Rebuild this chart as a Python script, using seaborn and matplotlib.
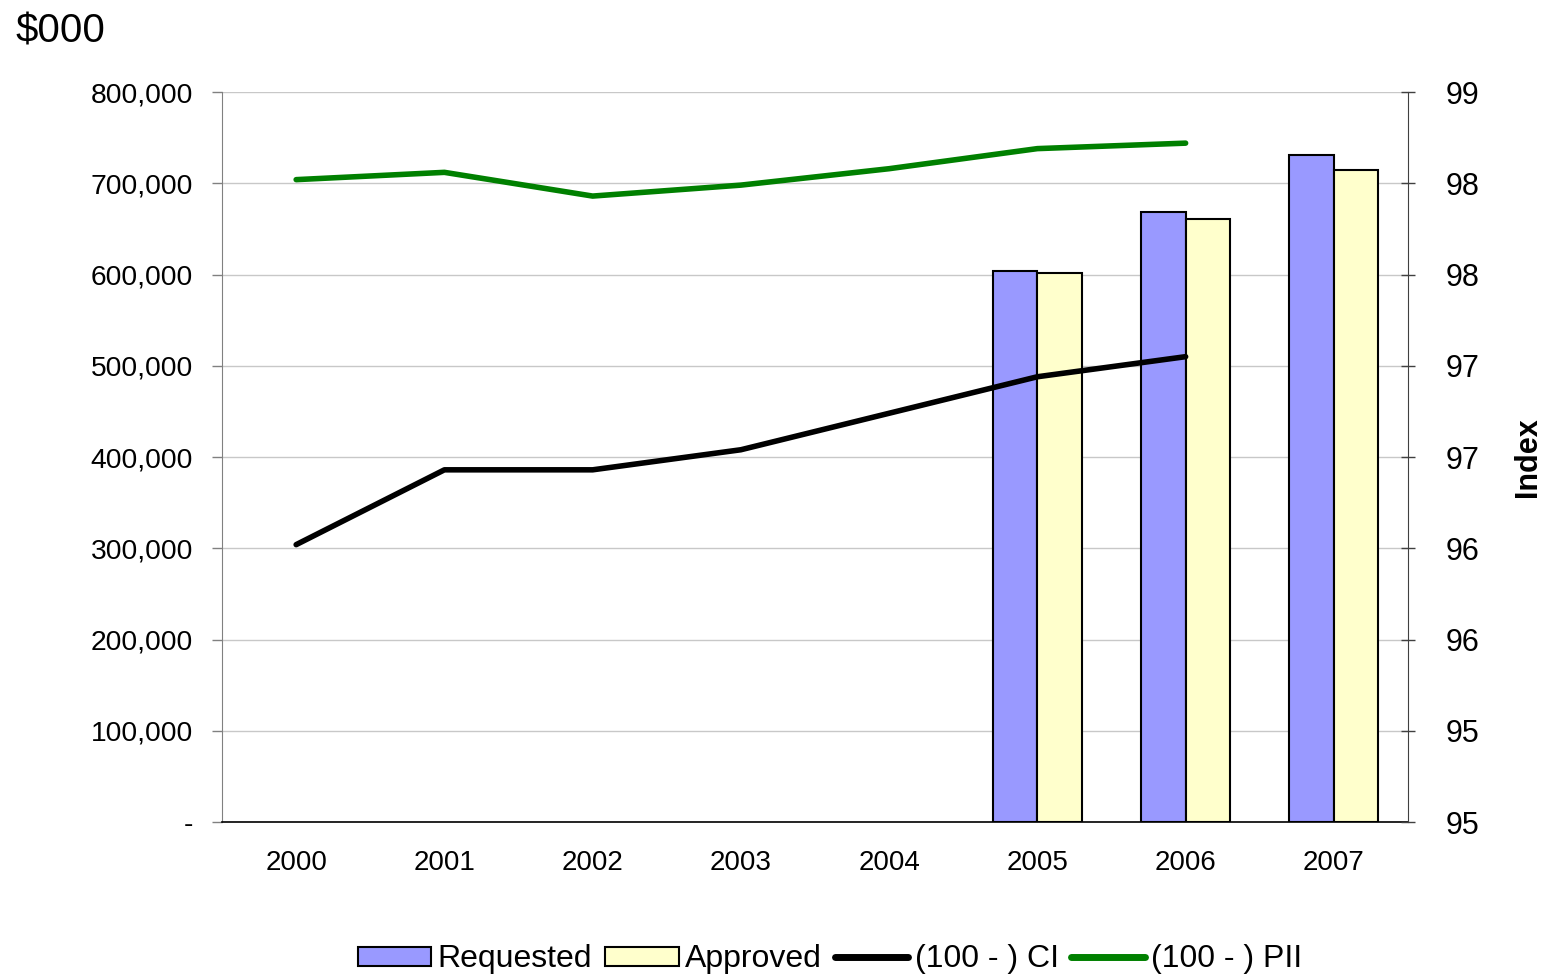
import numpy as np
import pandas as pd
import matplotlib
matplotlib.use("Agg")
import matplotlib.pyplot as plt
from matplotlib.ticker import FuncFormatter
from matplotlib.patches import Patch
from matplotlib.lines import Line2D
import seaborn as sns

# data
years = ["2000", "2001", "2002", "2003", "2004", "2005", "2006", "2007"]
requested = [np.nan, np.nan, np.nan, np.nan, np.nan, 604000, 668500, 731000]
approved = [np.nan, np.nan, np.nan, np.nan, np.nan, 601600, 660800, 714500]
ci_index = [96.52, 96.93, 96.93, 97.04, 97.24, 97.44, 97.55]
pii_index = [98.52, 98.56, 98.43, 98.49, 98.58, 98.69, 98.72]
right_ticks = [95, 95.5, 96, 96.5, 97, 97.5, 98, 98.5, 99]
right_labels = ["95", "95", "96", "96", "97", "97", "98", "98", "99"]

sns.set_style("white")
plt.rcParams["font.family"] = ["Liberation Sans", "DejaVu Sans"]
plt.rcParams["text.color"] = "black"
plt.rcParams["axes.labelcolor"] = "black"
plt.rcParams["xtick.color"] = "black"
plt.rcParams["ytick.color"] = "black"

df = pd.DataFrame({
    "year": years * 2,
    "value": requested + approved,
    "series": ["Requested"] * len(years) + ["Approved"] * len(years),
})

fig = plt.figure(figsize=(15.43, 9.74), dpi=100)
ax = fig.add_axes([0.1439, 0.156, 0.9125 - 0.1439, 0.9055 - 0.156])

sns.barplot(data=df, x="year", y="value", hue="series", order=years,
            hue_order=["Requested", "Approved"],
            palette=["#9999ff", "#ffffcc"], width=0.6, edgecolor="black",
            linewidth=1.5, saturation=1, ax=ax, legend=False)

ax.set_xlim(-0.5, len(years) - 0.5)
ax.set_ylim(0, 800000)
ax.set_yticks(np.arange(0, 800001, 100000))
ax.yaxis.set_major_formatter(FuncFormatter(lambda v, p: "-" if v == 0 else f"{int(v):,}"))
ax.set_xticks(np.arange(len(years)))
ax.set_xticklabels(years)
ax.set_xticks(np.arange(len(years) + 1) - 0.5, minor=True)
ax.tick_params(axis="x", which="major", length=0, labelsize=20, pad=20, labelcolor="black")
ax.tick_params(axis="x", which="minor", length=7, width=1, direction="out", color="black")
ax.tick_params(axis="y", length=7, width=1, direction="out", color="#808080",
               labelsize=20.3, pad=14, labelcolor="black")
ax.set_xlabel("")
ax.set_ylabel("")
ax.grid(axis="y", color="#c8c8c8", linewidth=1)
ax.set_axisbelow(True)
for s in ["top", "right"]:
    ax.spines[s].set_visible(False)
ax.spines["left"].set_color("#808080")
ax.spines["bottom"].set_color("black")
ax.spines["bottom"].set_linewidth(1.2)

ax2 = ax.twinx()
xpos = np.arange(len(ci_index))
sns.lineplot(x=xpos, y=ci_index, color="black", linewidth=4, ax=ax2)
sns.lineplot(x=xpos, y=pii_index, color="#008000", linewidth=4, ax=ax2)
ax2.set_ylim(95, 99)
ax2.set_yticks(right_ticks)
ax2.set_yticklabels(right_labels)
ax2.tick_params(axis="y", length=10, width=1, direction="inout", color="#404040",
                labelsize=22, pad=22, labelcolor="black")
ax2.set_ylabel("Index", fontsize=22, fontweight="bold", labelpad=24, color="black")
for s in ["top", "left", "bottom"]:
    ax2.spines[s].set_visible(False)
ax2.spines["right"].set_color("#404040")

fig.text(0.01, 0.987, "$000", fontsize=29, ha="left", va="top", color="black")

handles = [
    Patch(facecolor="#9999ff", edgecolor="black", linewidth=1.5),
    Patch(facecolor="#ffffcc", edgecolor="black", linewidth=1.5),
    Line2D([], [], color="black", linewidth=5),
    Line2D([], [], color="#008000", linewidth=5),
]
fig.legend(handles, ["Requested", "Approved", "(100 - ) CI", "(100 - ) PII"],
           loc="lower center", bbox_to_anchor=(0.538, -0.03), ncol=4, frameon=False,
           fontsize=23, handlelength=2.3, handleheight=0.55, handletextpad=0.2,
           columnspacing=0.4)

fig.savefig("out.png", dpi=100)
